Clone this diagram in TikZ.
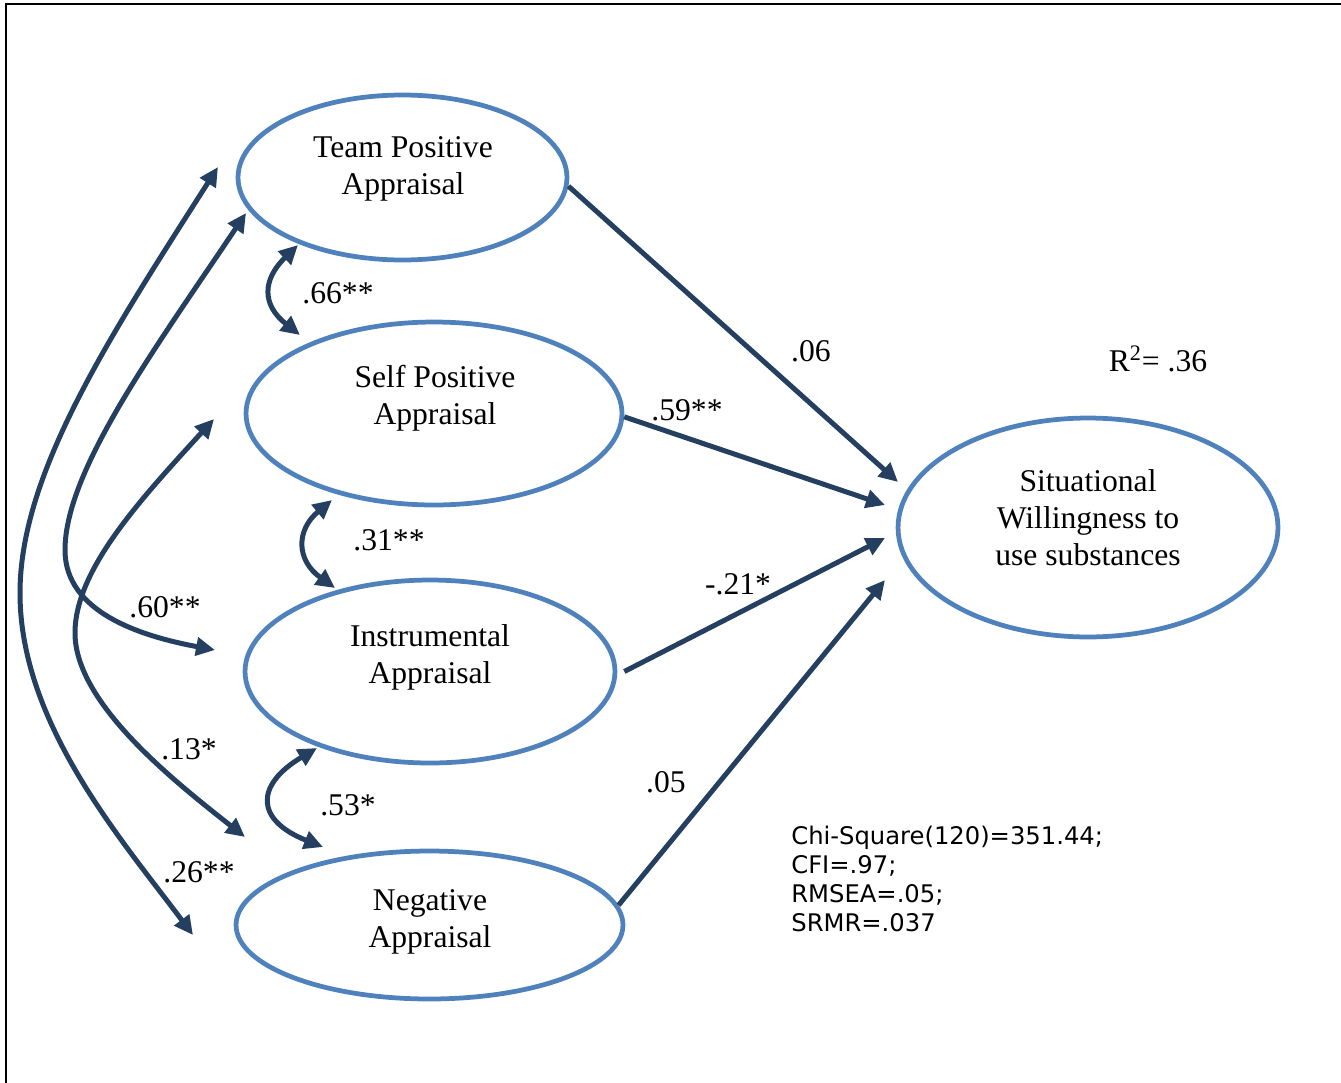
\documentclass[tikz,border=0pt]{standalone}
\usepackage{fontspec}
\setmainfont{Liberation Serif}
\newfontfamily\statfont{DejaVu Sans}
\usetikzlibrary{shapes.geometric,arrows.meta}
\definecolor{ellblue}{HTML}{4F81BD}
\definecolor{arrnavy}{HTML}{243F60}
\begin{document}
\begin{tikzpicture}[x=0.02cm,y=-0.02cm,
  latent/.style={ellipse, draw=ellblue, line width=0.095cm, inner sep=0pt},
  lbl/.style={font=\fontsize{18}{21}\selectfont, align=center, inner sep=0pt},
  coef/.style={font=\fontsize{18}{21}\selectfont, inner sep=0pt},
  effect/.style={draw=arrnavy, line width=0.1cm, -{Triangle[length=0.38cm,width=0.36cm]}},
  corr/.style={draw=arrnavy, line width=0.1cm, {Triangle[length=0.38cm,width=0.36cm]}-{Triangle[length=0.38cm,width=0.36cm]}},
]
\useasboundingbox (0,0) rectangle (1341,1082);
\draw[line width=0.05cm] (6,1095) -- (6,4) -- (1350,4);

% latent variables
\node[latent, minimum width=6.58cm, minimum height=3.3cm] (team) at (402.5,177.5) {};
\node[latent, minimum width=7.52cm, minimum height=3.66cm] (self) at (434,413.5) {};
\node[latent, minimum width=7.4cm, minimum height=3.66cm] (instr) at (430,671.5) {};
\node[latent, minimum width=7.74cm, minimum height=2.96cm] (neg) at (429.5,925) {};
\node[latent, minimum width=7.6cm, minimum height=4.38cm] (sit) at (1088,527.5) {};

\node[lbl] (teamt) at (403,169) {Team Positive\\Appraisal};
\node[lbl] (selft) at (435,398) {Self Positive\\ Appraisal};
\node[lbl] (instrt) at (430,657) {Instrumental\\Appraisal};
\node[lbl] (negt) at (430,922) {Negative\\Appraisal};
\node[lbl] (sitt) at (1088,518) {Situational\\Willingness to\\use substances};

% free ends of connectors
\coordinate (tTS) at (898,482);
\coordinate (tSS) at (885,505);
\coordinate (tIS) at (885,538);
\coordinate (tNS) at (885,580);
\coordinate (cT1) at (298,245);
\coordinate (cS1) at (300,335);
\coordinate (cS2) at (332,500);
\coordinate (cI1) at (335,588);
\coordinate (cI2) at (317,748);
\coordinate (cN1) at (323,847);
\coordinate (oT) at (218,167);
\coordinate (oN) at (193,935);
\coordinate (mT) at (246,213);
\coordinate (mI) at (215,650);
\coordinate (iS) at (214,419);
\coordinate (iN) at (245,837);

% regression paths
\draw[effect] (team.-3) -- (tTS);
\draw[effect] (self.-1) -- (tSS);
\draw[effect] ([xshift=0.14cm]instr.east) -- (tIS);
\draw[effect] (neg.6) -- (tNS);

% correlations between adjacent appraisals
\draw[corr] (cT1) .. controls (262,280) and (262,305) .. (cS1);
\draw[corr] (cS2) .. controls (296,530) and (296,560) .. (cI1);
\draw[corr] (cI2) .. controls (255,785) and (255,820) .. (cN1);

% long correlations
\draw[corr] (oT) .. controls (110,336) and (20,473) .. (20,593)
                 .. controls (20,723) and (121,839) .. (oN);
\draw[corr] (mT) .. controls (157,346) and (65,470) .. (65,550)
                 .. controls (65,612) and (140,636) .. (mI);
\draw[corr] (iS) .. controls (140,500) and (75,570) .. (75,633)
                 .. controls (75,703) and (174,781) .. (iN);

% coefficients
\node[coef] (k66) at (338,293) {.66**};
\node[coef] (k31) at (389,540) {.31**};
\node[coef] (k60) at (165,607) {.60**};
\node[coef] (k13) at (189,749) {.13*};
\node[coef] (k53) at (348,805) {.53*};
\node[coef] (k26) at (199,872) {.26**};
\node[coef] (k06) at (811,351) {.06};
\node[coef] (k59) at (687,410) {.59**};
\node[coef] (k21) at (738,584) {-.21*};
\node[coef] (k05) at (666,782) {.05};
\node[coef] (rsq) at (1158,359) {R\textsuperscript{2}= .36};

\node[anchor=north west, inner sep=0pt, align=left, font=\fontsize{13.8}{16.5}\statfont] (fit) at (791,826)
  {Chi-Square(120)=351.44;\\CFI=.97;\\RMSEA=.05;\\SRMR=.037};
\end{tikzpicture}
\end{document}
